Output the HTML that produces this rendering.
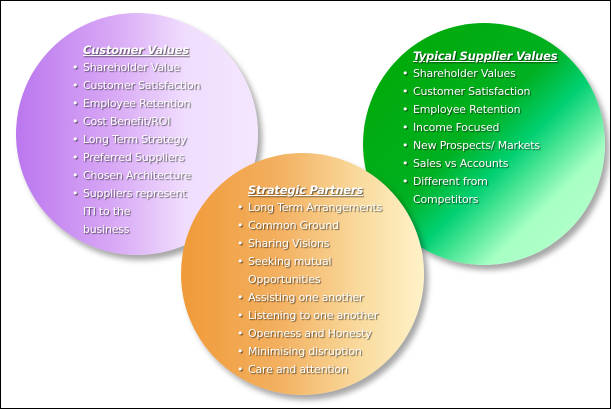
<!DOCTYPE html>
<html><head><style>
html,body{margin:0;padding:0;background:#fff;}
#c{position:relative;width:609px;height:407px;border:1px solid #000;overflow:hidden;background:#fff;font-family:"DejaVu Sans","Liberation Sans",sans-serif;}
.circ{position:absolute;border-radius:50%;box-shadow:4px 5px 6px rgba(0,0,0,0.35);}
.t{position:absolute;color:#fff;font-size:11px;line-height:18px;text-shadow:1px 1px 1px rgba(0,0,0,0.6);white-space:nowrap;letter-spacing:-0.2px;}
.t .h{font-style:italic;font-weight:bold;text-decoration:underline;font-size:11.5px;}
.t ul{margin:0;padding:0;list-style:none;}
.t li{position:relative;}
.t li:before{content:"•";position:absolute;left:-11px;}
</style></head><body><div id="c">
<div class="circ" style="left:362px;top:22px;width:242px;height:242px;background:linear-gradient(135deg,#00a800 0%,#00b020 45%,#00d070 58%,#a8ffc4 76%,#b8ffd0 100%);"></div>
<div class="circ" style="left:15px;top:12px;width:242px;height:242px;background:linear-gradient(90deg,#bb77ee 0%,#d8a8f5 40%,#f0ddfd 70%,#f4e6fe 100%);"></div>
<div class="circ" style="left:180px;top:152px;width:243px;height:242px;background:linear-gradient(90deg,#f09a38 0%,#f3b060 40%,#f9dca0 75%,#fff2c8 100%);"></div>

<div class="t" id="a" style="left:82px;top:40px;"><div class="h">Customer Values</div><ul>
<li>Shareholder Value</li><li>Customer Satisfaction</li><li>Employee Retention</li><li>Cost Benefit/ROI</li><li>Long Term Strategy</li><li>Preferred Suppliers</li><li>Chosen Architecture</li><li>Suppliers represent</li><li class="n">ITI to the</li><li class="n">business</li></ul></div>

<div class="t" style="left:412px;top:46px;"><div class="h">Typical Supplier Values</div><ul>
<li>Shareholder Values</li><li>Customer Satisfaction</li><li>Employee Retention</li><li>Income Focused</li><li>New Prospects/ Markets</li><li>Sales vs Accounts</li><li>Different from</li><li class="n">Competitors</li></ul></div>

<div class="t" style="left:247px;top:180px;"><div class="h">Strategic Partners</div><ul>
<li>Long Term Arrangements</li><li>Common Ground</li><li>Sharing Visions</li><li>Seeking mutual</li><li class="n">Opportunities</li><li>Assisting one another</li><li>Listening to one another</li><li>Openness and Honesty</li><li>Minimising disruption</li><li>Care and attention</li></ul></div>
</div>
<style>.t li.n:before{content:""}</style>
</body></html>
